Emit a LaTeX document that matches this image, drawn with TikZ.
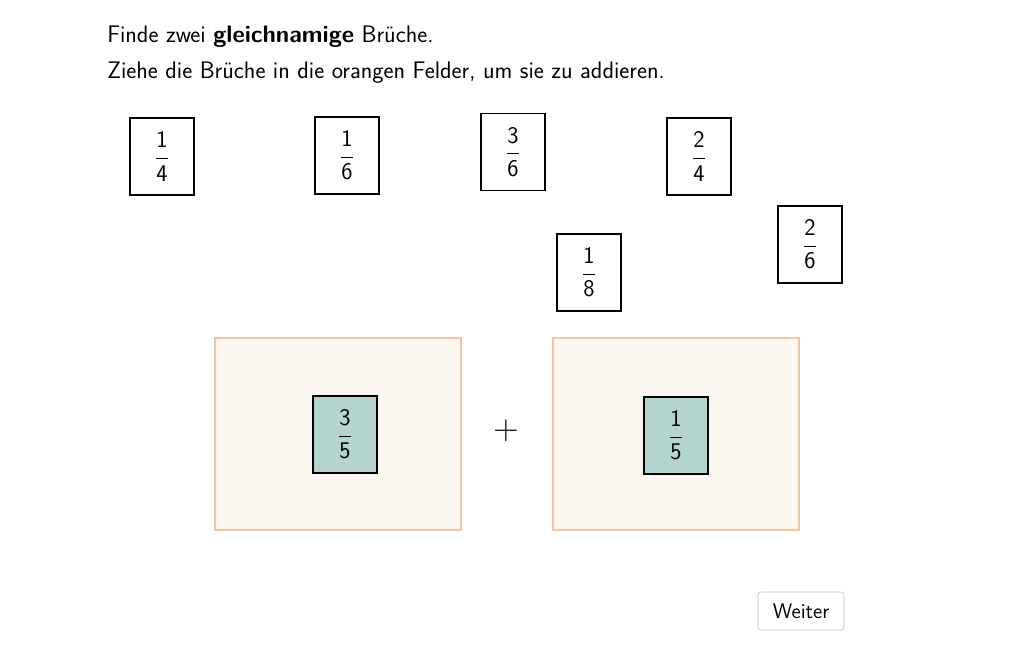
\documentclass[tikz,border=0pt]{standalone}
\usepackage{amsmath}
\usepackage{fontspec}
\usetikzlibrary{positioning}
\definecolor{feldrand}{RGB}{245,196,160}
\definecolor{feldfill}{RGB}{253,247,241}
\definecolor{gruen}{RGB}{181,212,206}
\newcommand{\bruch}[2]{$\dfrac{\text{#1}}{\text{#2}}$}
\tikzset{
  karte/.style={draw, thick, minimum width=1.6cm, minimum height=1.925cm, inner sep=0pt, font=\sffamily\fontsize{17}{20}\selectfont},
  feld/.style={draw=feldrand, very thick, fill=feldfill, minimum width=6.15cm, minimum height=4.8cm}
}
\begin{document}
\begin{tikzpicture}[x=0.025cm, y=-0.025cm, font=\sffamily\fontsize{17}{20}\selectfont]
    \useasboundingbox (0,0) rectangle (1032,645);
    % Aufgabentext
    \node[anchor=base west, inner sep=0pt] (z1) at (107,42) {Finde zwei \textbf{gleichnamige} Brüche.};
    \node[anchor=base west, inner sep=0pt] (z2) at (107,78) {Ziehe die Brüche in die orangen Felder, um sie zu addieren.};
    % Felder
    \node[feld] (F1) at (338,434) {};
    \node[feld] (F2) at (676,434) {};
    \node (plus) at (506,431) {\fontsize{28}{28}\selectfont$+$};
    % Karten
    \node[karte] (k14) at (162,156.5) {\bruch{1}{4}};
    \node[karte] (k16) at (347,155.5) {\bruch{1}{6}};
    \node[karte] (k36) at (513,152) {\bruch{3}{6}};
    \node[karte] (k24) at (699,156.5) {\bruch{2}{4}};
    \node[karte] (k18) at (589,272.5) {\bruch{1}{8}};
    \node[karte] (k26) at (810,244.5) {\bruch{2}{6}};
    \node[karte, fill=gruen] (k35) at (345,434.5) {\bruch{3}{5}};
    \node[karte, fill=gruen] (k15) at (676,435.5) {\bruch{1}{5}};
    % Knopf
    \node[draw=black!25, rounded corners=2pt, minimum width=2.15cm, minimum height=0.95cm, font=\sffamily\fontsize{15}{18}\selectfont] (weiter) at (801,611) {Weiter};
\end{tikzpicture}
\end{document}
